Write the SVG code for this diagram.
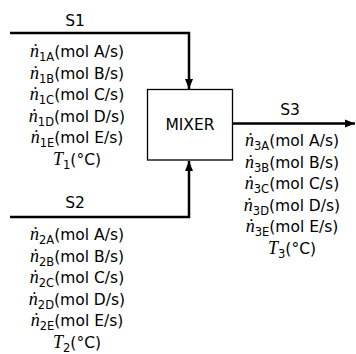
<svg xmlns="http://www.w3.org/2000/svg" width="356" height="354" viewBox="0 0 356 354">
<defs>
<style>
.t{font-family:"DejaVu Sans","Liberation Sans",sans-serif;font-size:15.5px;fill:#000;text-anchor:middle}
.v{font-family:"Liberation Serif","DejaVu Serif",serif;font-style:italic;font-size:18px}
.s{font-size:11.5px}
.ln{fill:none;stroke:#000;stroke-width:2.5}
</style>
<marker id="ah" markerWidth="10" markerHeight="10" viewBox="0 0 10 10" refX="10" refY="5" orient="auto" markerUnits="userSpaceOnUse">
<path d="M0,1 L10,5 L0,9 Z" fill="#000"/>
</marker>
</defs>
<rect width="356" height="354" fill="#fff"/>
<g id="connectors">
<path class="ln" d="M10,33 H189 V89" marker-end="url(#ah)"/>
<path class="ln" d="M10,217 H189 V161" marker-end="url(#ah)"/>
<path class="ln" d="M233,123.5 H355" marker-end="url(#ah)"/>
</g>
<g id="mixer">
<rect x="147.5" y="89.5" width="85" height="70.5" fill="#fff" stroke="#000" stroke-width="1.3"/>
<text class="t" x="190" y="130">MIXER</text>
</g>
<g id="s1">
<text class="t" x="75" y="26">S1</text>
<text class="t" x="77" y="57"><tspan class="v">ṅ</tspan><tspan class="s" dy="4">1A</tspan><tspan dy="-4">(mol A/s)</tspan></text>
<text class="t" x="77" y="78.5"><tspan class="v">ṅ</tspan><tspan class="s" dy="4">1B</tspan><tspan dy="-4">(mol B/s)</tspan></text>
<text class="t" x="77" y="100"><tspan class="v">ṅ</tspan><tspan class="s" dy="4">1C</tspan><tspan dy="-4">(mol C/s)</tspan></text>
<text class="t" x="77" y="121.5"><tspan class="v">ṅ</tspan><tspan class="s" dy="4">1D</tspan><tspan dy="-4">(mol D/s)</tspan></text>
<text class="t" x="77" y="143"><tspan class="v">ṅ</tspan><tspan class="s" dy="4">1E</tspan><tspan dy="-4">(mol E/s)</tspan></text>
<text class="t" x="77" y="164.5"><tspan class="v">T</tspan><tspan class="s" dy="4">1</tspan><tspan dy="-4">(°C)</tspan></text>
</g>
<g id="s2">
<text class="t" x="75" y="208">S2</text>
<text class="t" x="77" y="240"><tspan class="v">ṅ</tspan><tspan class="s" dy="4">2A</tspan><tspan dy="-4">(mol A/s)</tspan></text>
<text class="t" x="77" y="261.5"><tspan class="v">ṅ</tspan><tspan class="s" dy="4">2B</tspan><tspan dy="-4">(mol B/s)</tspan></text>
<text class="t" x="77" y="283"><tspan class="v">ṅ</tspan><tspan class="s" dy="4">2C</tspan><tspan dy="-4">(mol C/s)</tspan></text>
<text class="t" x="77" y="304.5"><tspan class="v">ṅ</tspan><tspan class="s" dy="4">2D</tspan><tspan dy="-4">(mol D/s)</tspan></text>
<text class="t" x="77" y="326"><tspan class="v">ṅ</tspan><tspan class="s" dy="4">2E</tspan><tspan dy="-4">(mol E/s)</tspan></text>
<text class="t" x="77" y="347.5"><tspan class="v">T</tspan><tspan class="s" dy="4">2</tspan><tspan dy="-4">(°C)</tspan></text>
</g>
<g id="s3">
<text class="t" x="290" y="115">S3</text>
<text class="t" x="292" y="146"><tspan class="v">ṅ</tspan><tspan class="s" dy="4">3A</tspan><tspan dy="-4">(mol A/s)</tspan></text>
<text class="t" x="292" y="167.5"><tspan class="v">ṅ</tspan><tspan class="s" dy="4">3B</tspan><tspan dy="-4">(mol B/s)</tspan></text>
<text class="t" x="292" y="189"><tspan class="v">ṅ</tspan><tspan class="s" dy="4">3C</tspan><tspan dy="-4">(mol C/s)</tspan></text>
<text class="t" x="292" y="210.5"><tspan class="v">ṅ</tspan><tspan class="s" dy="4">3D</tspan><tspan dy="-4">(mol D/s)</tspan></text>
<text class="t" x="292" y="232"><tspan class="v">ṅ</tspan><tspan class="s" dy="4">3E</tspan><tspan dy="-4">(mol E/s)</tspan></text>
<text class="t" x="292" y="253.5"><tspan class="v">T</tspan><tspan class="s" dy="4">3</tspan><tspan dy="-4">(°C)</tspan></text>
</g>
</svg>
